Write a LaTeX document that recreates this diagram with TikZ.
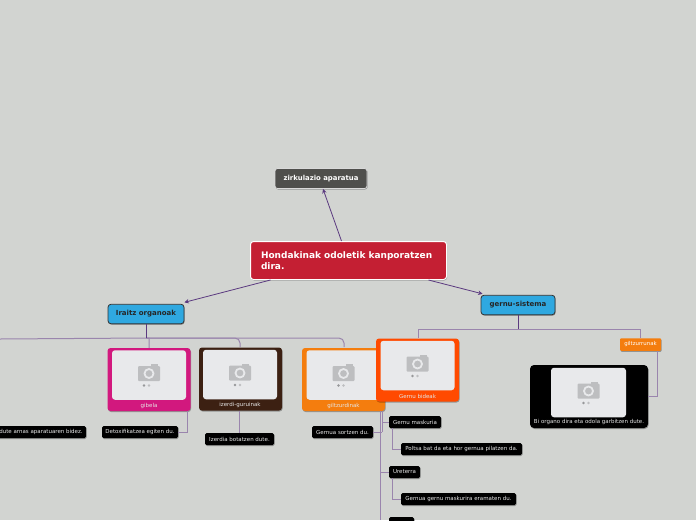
\documentclass[tikz,border=0pt]{standalone}
\usepackage{xcolor}
\usepackage{fontspec}
\setmainfont{DejaVu Sans}
\usetikzlibrary{arrows.meta,shadows,calc}
\definecolor{pagebg}{HTML}{D2D4D1}
\definecolor{rootred}{HTML}{C41F33}
\definecolor{slategrey}{HTML}{4F4F4C}
\definecolor{branchblue}{HTML}{2FA8E0}
\definecolor{linkdark}{HTML}{5B3A80}
\definecolor{linklight}{HTML}{9A85AD}
\definecolor{cardpink}{HTML}{D2187E}
\definecolor{cardbrown}{HTML}{3C2012}
\definecolor{cardorange}{HTML}{F47D0E}
\definecolor{cardred}{HTML}{FF4A00}
\definecolor{photobg}{HTML}{E8E9EB}
\definecolor{camgrey}{HTML}{BDBEC0}
\begin{document}
\begin{tikzpicture}[x=1pt,y=-1pt,
		softshadow/.style={drop shadow={shadow xshift=0.6pt,shadow yshift=-1pt,opacity=.3,fill=black}},
		rootbox/.style={rounded corners=3pt,draw=white,line width=1pt,fill=rootred,text=white,softshadow,
				minimum width=196pt,minimum height=38pt,text width=175pt,align=left,inner sep=0pt,
				font=\fontsize{9}{11.5}\selectfont\bfseries},
		greybox/.style={rounded corners=2.5pt,draw=white!85!black,line width=.8pt,fill=slategrey,text=white,softshadow,
				minimum width=92pt,minimum height=20pt,inner sep=0pt,font=\fontsize{6.9}{8}\selectfont\bfseries},
		bluebox/.style={rounded corners=3pt,draw=black!80,line width=.8pt,fill=branchblue,text=black!85,softshadow,
				minimum height=19.5pt,inner sep=0pt,font=\fontsize{7}{8}\selectfont\bfseries},
		card/.style={rounded corners=3pt,fill=#1,softshadow,minimum width=83pt,minimum height=63pt,inner sep=0pt},
		photo/.style={rounded corners=3pt,fill=photobg,minimum width=74pt,minimum height=49.5pt,inner sep=0pt},
		caption/.style={text=white!90!black,inner sep=0pt,font=\fontsize{5.5}{6}\selectfont},
		leaf/.style={rounded corners=1.5pt,fill=black,text=white!92!black,softshadow,minimum height=12pt,inner sep=0pt,
				font=\fontsize{5.5}{6}\selectfont},
		tag/.style={rounded corners=1pt,fill=cardorange,text=white,softshadow,minimum width=41pt,minimum height=12.5pt,
				inner sep=0pt,font=\fontsize{5.4}{6}\selectfont},
		mainlink/.style={draw=linkdark,line width=.8pt,-{Stealth[length=4.5pt,width=4.5pt]}},
		trunk/.style={draw=linkdark,line width=1pt},
		twig/.style={draw=linklight,line width=1pt},
	]
	\def\camera#1{
		\fill[camgrey,rounded corners=1pt] ($(#1)+(-11,-9)$) rectangle ($(#1)+(11,6)$);
		\fill[camgrey] ($(#1)+(2,-11)$) rectangle ($(#1)+(9,-8)$);
		\draw[photobg,line width=1.8pt] ($(#1)+(0,-1.5)$) circle (4.5pt);
		\fill[camgrey!80!black] ($(#1)+(-5,10.5)$) circle (1.4pt);
		\fill[camgrey] ($(#1)+(0,10.5)$) circle (1.4pt);
	}
	\fill[pagebg] (0,0) rectangle (696,520);
	\useasboundingbox (0,0) rectangle (696,520);

	\node[rootbox] (root) at (348.5,260.5) {Hondakinak odoletik kanporatzen dira.};
	\node[greybox] (zirk) at (321,178.5) {zirkulazio aparatua};
	\node[bluebox,minimum width=76pt] (iraitz) at (146,314) {Iraitz organoak};
	\node[bluebox,minimum width=74pt] (gernu) at (518,305) {gernu-sistema};

	\draw[mainlink] ([xshift=-7pt]root.north) -- ([xshift=2pt]zirk.south);
	\draw[mainlink] ([xshift=-78pt]root.south) -- ([yshift=1.5pt]iraitz.north east);
	\draw[mainlink] ([xshift=80pt]root.south) -- ([xshift=2pt,yshift=1pt]gernu.north west);

	\coordinate (lefttop) at (0,339);
	\coordinate (izerditop) at (240,347);
	\coordinate (giltztop) at (344,347);
	\draw[twig] (lefttop) -- (146,338) -- (149,338) -- (149,348);
	\draw[twig,rounded corners=5pt] (146,338) -- (izerditop |- 146,338) -- (izerditop);
	\draw[twig,rounded corners=5pt] (146,338) -- (giltztop |- 146,338) -- (giltztop);
	\draw[trunk] (iraitz.south) -- (146,338);

	\node[card=cardpink] (gibela) at (149,379.5) {};
	\node[photo] (gibelaph) at (149,375) {};
	\camera{gibelaph}
	\node[caption] (gibelatx) at (149,405.5) {gibela};

	\node[card=cardbrown] (izerdi) at (240.5,379) {};
	\node[photo] (izerdiph) at (240,374.5) {};
	\camera{izerdiph}
	\node[caption] (izerditx) at (240,405) {izerdi-guruinak};

	\node[card=cardorange] (giltz) at (343.5,379.5) {};
	\node[photo] (giltzph) at (343.5,375) {};
	\camera{giltzph}
	\node[caption] (giltztx) at (343.5,405.5) {giltzurdinak};

	\coordinate (leftfoot) at (380,520);
	\draw[twig] (380,411) -- (leftfoot);
	\draw[twig] (382,411) -- (382,432);

	\node[leaf,minimum width=92pt] (arnas) at (40,432) {\hspace*{2pt}dute arnas aparatuaren bidez.};
	\node[leaf,minimum width=76pt] (detox) at (140,432) {Detoxifikatzea egiten du.};
	\node[leaf,minimum width=69pt] (izerdia) at (239.5,439) {Izerdia botatzen dute.};
	\node[leaf,minimum width=61pt] (sortu) at (342.5,432) {Gernua sortzen du.};
	\node[leaf,minimum width=52pt] (maskuria) at (415,422) {Gernu maskuria};
	\node[leaf,minimum width=121pt] (poltsa) at (461.5,449) {Poltsa bat da eta hor gernua pilatzen da.};
	\node[leaf,minimum width=31pt] (ureterra) at (404.5,472) {Ureterra};
	\node[leaf,minimum width=115pt] (eraman) at (458.5,499) {Gernua gernu maskurira eramaten du.};
	\node[leaf,minimum width=25pt,minimum height=12pt] (uretra) at (401.5,523) {};

	\draw[twig] (detox.east) -| ([xshift=-3pt]gibela.south east);
	\draw[twig] (izerdia.north) -- (izerdia.north |- izerdi.south);
	\draw[twig] (sortu.east) -- (382,432);
	\draw[twig] (maskuria.west) -- (382,422);
	\draw[twig] (ureterra.west) -- (380,472);
	\draw[twig] (uretra.west) -- (380,523);
	\draw[twig] (poltsa.west) -| ([xshift=4pt]maskuria.south west);
	\draw[twig] (eraman.west) -| ([xshift=4pt]ureterra.south west);

	\coordinate (forkleft) at (418,338);
	\coordinate (forkright) at (640,338);
	\draw[twig] (forkleft) -- (418,329) -- (640,329) -- (forkright);
	\draw[trunk] (gernu.south) -- (518,329);

	\node[card=cardred] (bideak) at (417.5,370) {};
	\node[photo] (bideakph) at (417.5,365.5) {};
	\camera{bideakph}
	\node[caption] (bideaktx) at (417.5,396) {Gernu bideak};

	\node[tag] (tubul) at (640.5,344.5) {giltzurrunak};
	\node[card=black,minimum width=118pt,rounded corners=4pt] (bicard) at (589,396.5) {};
	\node[photo,minimum width=75pt] (biph) at (588.5,392.5) {};
	\camera{biph}
	\node[caption] (bitx) at (589,422) {Bi organo dira eta odola garbitzen dute.};
	\draw[twig] (bicard.east) -| ([xshift=-4pt]tubul.south east);
\end{tikzpicture}
\end{document}
